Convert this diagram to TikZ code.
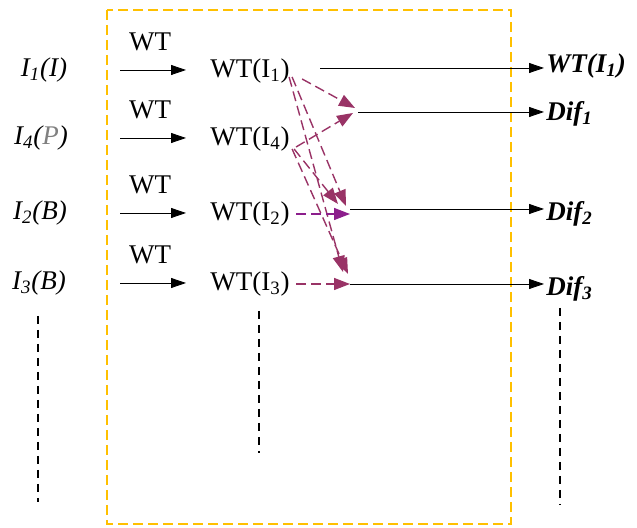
\documentclass[tikz,border=0pt]{standalone}
\usepackage{fontspec}
\setmainfont{Liberation Serif}
\usetikzlibrary{arrows.meta}
\definecolor{boxgold}{RGB}{255,192,0}
\definecolor{plum}{RGB}{153,51,102}
\definecolor{grape}{RGB}{140,30,140}
\newcommand{\outlbl}[1]{\textbf{\textit{#1}}}

\begin{document}
\begin{tikzpicture}[x=0.5pt, y=-0.5pt, inner sep=1pt, font=\fontsize{13.5}{16}\selectfont,
  tip/.style={-{Triangle[length=7.5pt,width=5pt]}},
  fuse/.style={plum, line width=0.7pt, dash pattern=on 5pt off 2.5pt, -{Triangle[length=8pt,width=6pt]}},
  more/.style={line width=0.8pt, dash pattern=on 4pt off 3pt}]
\useasboundingbox (0,0) rectangle (637,528);
\draw[boxgold, line width=1pt, dash pattern=on 5pt off 2.5pt] (107,10) rectangle (511,524);
% inputs
\node (in1) at (44,70) {\textit{I\textsubscript{1}(I)}};
\node (in4) at (41,138) {\textit{I\textsubscript{4}(\textcolor{gray}{P})}};
\node (in2) at (40,213) {\textit{I\textsubscript{2}(B)}};
\node (in3) at (39,283) {\textit{I\textsubscript{3}(B)}};
% wavelet step
\foreach \n/\y in {1/70,4/138,2/213,3/283} {
  \node (op\n) at (150,\y-28) {WT};
  \coordinate (s\n) at (120,\y);
  \coordinate (e\n) at (186,\y);
  \draw[tip] (s\n) -- (e\n);
  \node (wt\n) at (250,\y+1) {WT(I\textsubscript{\n})};
}
% outputs
\node[anchor=west] (out0) at (544,66) {\outlbl{WT(I\textsubscript{1})}};
\node[anchor=west] (dif1) at (544,114) {\outlbl{Dif\textsubscript{1}}};
\node[anchor=west] (dif2) at (544,214) {\outlbl{Dif\textsubscript{2}}};
\node[anchor=west] (dif3) at (544,289) {\outlbl{Dif\textsubscript{3}}};
\coordinate (j0) at (320,68);
\coordinate (j1) at (358,112);
\coordinate (j2) at (350,209);
\coordinate (j3) at (350,284);
\draw[tip] (j0) -- (j0 -| out0.west);
\draw[tip] (j1) -- (j1 -| dif1.west);
\draw[tip] (j2) -- (j2 -| dif2.west);
\draw[tip] (j3) -- (j3 -| dif3.west);
% differences
\draw[fuse] ([shift={(10,8)}]wt1.east) -- ([shift={(-3,-4)}]j1);
\draw[fuse] ([shift={(4,8)}]wt4.east) -- ([shift={(-5,1)}]j1);
\draw[fuse] ([shift={(0,6)}]wt1.east) -- ([shift={(-4,-3)}]j2);
\draw[fuse] ([shift={(2,10)}]wt4.east) -- ([shift={(-12,-5)}]j2);
\draw[fuse] ([shift={(-3,6)}]wt1.east) -- ([shift={(-7,-12)}]j3);
\draw[fuse] ([shift={(0,10)}]wt4.east) -- ([shift={(-2,-10)}]j3);
\draw[fuse, grape] ([shift={(4,0)}]wt2.east) -- ([shift={(0,5)}]j2);
\draw[fuse] ([shift={(4,0)}]wt3.east) -- (j3);
% more frames
\draw[more] (38,316) -- (38,502);
\draw[more] (259,311) -- (259,453);
\draw[more] (560,308) -- (560,505);
\end{tikzpicture}
\end{document}
